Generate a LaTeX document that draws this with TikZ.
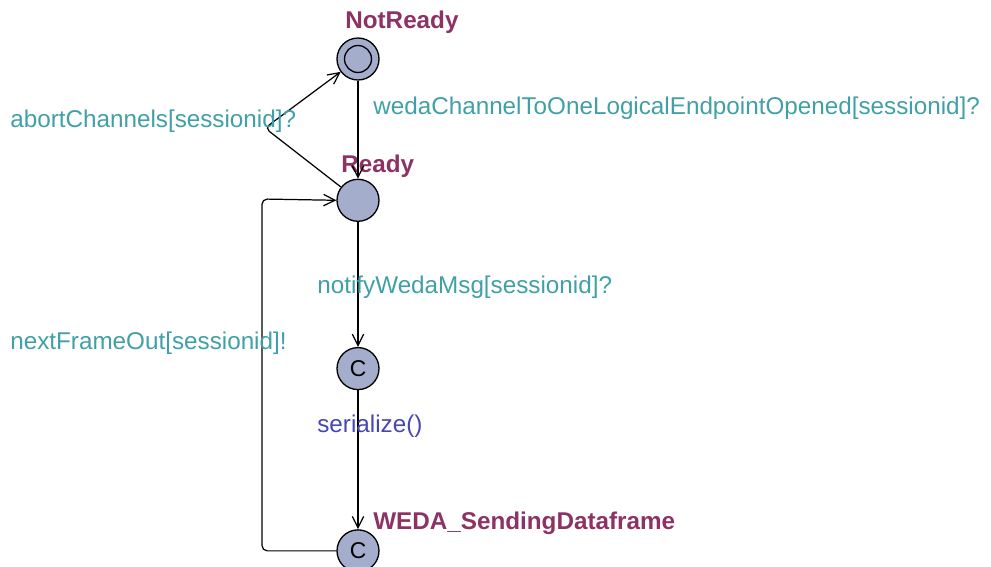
\documentclass[tikz,border=0pt]{standalone}
\usepackage{fontspec}
\setmainfont{Liberation Sans}
\usetikzlibrary{arrows.meta, positioning}
\definecolor{cLoc}{RGB}{165,173,204}
\definecolor{cName}{RGB}{140,50,100}
\definecolor{cSync}{RGB}{64,160,166}
\definecolor{cUpd}{RGB}{70,70,180}
\tikzset{
    loc/.style     ={circle, draw=black, line width=0.75pt, fill=cLoc, minimum size=0.84cm, inner sep=0pt},
    initloc/.style ={loc, path picture={\draw[line width=0.75pt] (path picture bounding box.center) circle (0.27cm);}},
    comloc/.style  ={loc, font=\fontsize{13}{15}\selectfont},
    locname/.style ={anchor=base west, inner sep=0pt, font=\fontsize{13.8}{16}\selectfont\bfseries, text=cName},
    sync/.style    ={anchor=base west, inner sep=0pt, text=cSync},
    update/.style  ={anchor=base west, inner sep=0pt, text=cUpd},
    edge/.style    ={-{Straight Barb[length=6.5pt, width=6.5pt]}, line width=0.7pt, rounded corners=3pt},
}
\begin{document}
\begin{tikzpicture}[x=0.02cm, y=-0.02cm, font=\fontsize{13.8}{16}\selectfont]
        \useasboundingbox (0,0) rectangle (991,566);
        % locations
        \node[initloc] (nr) at (358,59) {};
        \node[loc, below=1.96cm of nr] (rd) {};
        \node[comloc, below=2.5cm of rd] (c1) {C};
        \node[comloc, below=2.78cm of c1] (wd) {C};
        \node[locname] (nrName) at (345,28) {NotReady};
        \node[locname] (rdName) at (341,172) {Ready};
        \node[locname] (wdName) at (373,529) {WEDA\_SendingDataframe};
        % bends
        \coordinate (k1) at (265,128);
        \coordinate (k2) at (262,199);
        % transitions
        \draw[edge] (nr) -- (rd);
        \draw[edge] (rd) -- (k1) -- (nr);
        \draw[edge] (rd) -- (c1);
        \draw[edge] (c1) -- (wd);
        \draw[edge] (wd.west) -| (k2) -- (rd.west);
        % labels
        \node[sync] (lOpen) at (373,114) {wedaChannelToOneLogicalEndpointOpened[sessionid]?};
        \node[sync] (lAbort) at (10,127) {abortChannels[sessionid]?};
        \node[sync] (lNotify) at (317,293) {notifyWedaMsg[sessionid]?};
        \node[sync] (lNext) at (10,349) {nextFrameOut[sessionid]!};
        \node[update] (lSer) at (317,432) {serialize()};
    \end{tikzpicture}
\end{document}
